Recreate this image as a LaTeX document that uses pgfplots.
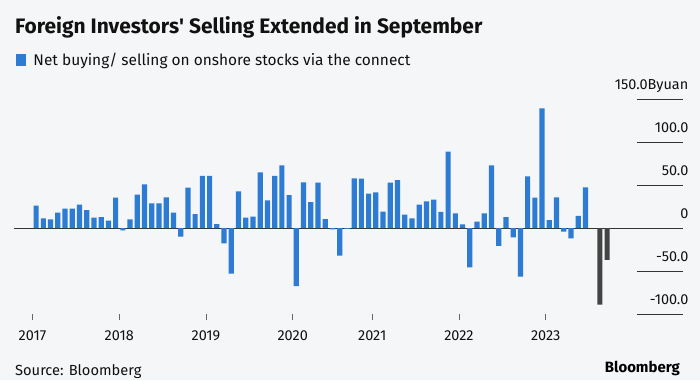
\documentclass[border=0pt]{standalone}
\usepackage{pgfplots}
\pgfplotsset{compat=1.18}
\usepackage{fontspec}
\setmainfont{Fira Sans}
\definecolor{bg}{HTML}{F5F6F8}
\definecolor{barblue}{HTML}{2E7BD4}
\definecolor{bardark}{HTML}{444444}
\definecolor{txt}{HTML}{111111}
\begin{document}
\begin{tikzpicture}[x=1bp,y=1bp]
\fill[bg] (0,0) rectangle (700,380);
\node[anchor=base west, inner sep=0pt, font=\fontsize{21}{24}\selectfont\bfseries, text=txt] at (15,346.7) {Foreign Investors\textquotesingle{} Selling Extended in September};
\fill[barblue] (16,314.3) rectangle (25.7,325.7);
\node[anchor=base west, inner sep=0pt, font=\fontsize{15.5}{18}\selectfont, text=txt] at (33.3,314.3) {Net buying/ selling on onshore stocks via the connect};
\node[anchor=base west, inner sep=0pt, font=\fontsize{14.7}{17}\selectfont, text=txt] at (15,5) {Source: Bloomberg};
\node[anchor=base east, inner sep=0pt, font=\fontsize{15}{17}\selectfont\bfseries, text=black] at (680,7.7) {Bloomberg};
\begin{axis}[
  at={(14bp,66bp)}, anchor=south west,
  scale only axis, width=669bp, height=214.7bp,
  xmin=-2.56, xmax=90, ymin=-100, ymax=150,
  axis line style={draw=none},
  xtick={0,12,24,36,47,59,71},
  xticklabels={2017,2018,2019,2020,2021,2022,2023},
  xtick pos=bottom,
  tick align=outside,
  major tick length=5.5bp,
  xtick style={draw=black!60, line width=0.7pt},
  xticklabel style={font=\fontsize{14.5}{17}\selectfont, text=txt, anchor=base, yshift=-21bp},
  ytick={-100,-50,0,50,100,150},
  yticklabels={-100.0,-50.0,0,50.0,100.0,150.0Byuan},
  yticklabel pos=right,
  ytick style={draw=none},
  yticklabel style={font=\fontsize{14.5}{17}\selectfont, text=txt, anchor=base east, inner sep=0pt, xshift=0bp, yshift=9.5bp},
  ybar, bar width=5.2bp,
  clip=false,
]
\draw[black!80, line width=1.2pt] (axis cs:-2.56,0) -- (axis cs:90,0);
\foreach \v in {150,100,50,-50,-100} {
  \edef\tmp{\noexpand\draw[black!80, line width=1pt] (axis cs:83.63,\v) -- (axis cs:90,\v);}
  \tmp
}
\addplot[fill=barblue, draw=none] coordinates {
(1,26.1) (2,11.4) (3,10.2) (4,18.0) (5,22.6) (6,22.6) (7,27.3) (8,21.1) (9,12.2) (10,12.9)
(11,8.7) (12,35.5) (13,-2.6) (14,10.2) (15,39.0) (16,51.0) (17,28.9) (18,28.9) (19,35.9) (20,18.0)
(21,-10.0) (22,47.1) (23,16.4) (24,60.7) (25,60.7) (26,4.8) (27,-17.7) (28,-53.1) (29,42.8) (30,12.2)
(31,13.3) (32,64.9) (33,32.3) (34,60.7) (35,73.1) (36,38.5) (37,-67.4) (38,53.3) (39,30.4) (40,52.9)
(41,10.6) (42,-1.4) (43,-32.1) (44,-1.0) (45,57.9) (46,57.5) (47,40.1) (48,41.7) (49,19.1) (50,52.9)
(51,56.0) (52,15.6) (53,11.4) (54,27.3) (55,31.2) (56,33.1) (57,18.8) (58,89.2) (59,17.2) (60,4.4)
(61,-45.7) (62,7.5) (63,17.2) (64,73.0) (65,-20.8) (66,12.9) (67,-10.8) (68,-56.6) (69,60.3) (70,35.5)
(71,139.5) (72,9.4) (73,35.9) (74,-4.2) (75,-11.9) (76,14.4) (77,47.5)
};
\addplot[fill=bardark, draw=none] coordinates {(78,-89.0) (79,-37.1)};
\end{axis}
\pgfresetboundingbox
\path[use as bounding box] (0,0) rectangle (700,380);
\end{tikzpicture}
\end{document}
